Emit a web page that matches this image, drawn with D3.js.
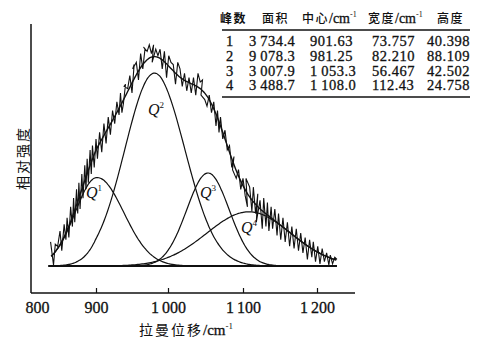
<!DOCTYPE html>
<html lang="zh">
  <head>
    <meta charset="UTF-8" />
    <title>拉曼光谱分峰拟合</title>
    <script src="https://d3js.org/d3.v7.min.js"></script>
    <style>
      body {
        margin: 0;
        background: #fff;
      }
      svg text {
        fill: #111;
      }
      .num {
        font-family: "Liberation Serif", "DejaVu Serif", serif;
      }
      .cjk {
        font-family: "Noto Sans CJK SC", sans-serif;
      }
      .heavy {
        stroke: #111;
        stroke-width: 0.3px;
      }
    </style>
  </head>
  <body>
    <div id="chart"></div>
    <script>
      // fitted peaks (table values)
      const peakNo = [1, 2, 3, 4];
      const peakArea = [3734.4, 9078.3, 3007.9, 3488.7];
      const peakCenter = [901.63, 981.25, 1053.3, 1108.0];
      const peakWidth = [73.757, 82.21, 56.467, 112.43];
      const peakHeight = [40.398, 88.109, 42.502, 24.758];

      const rawShift = [
        823, 828, 831, 835, 839, 842, 846, 849, 851, 854, 857, 860, 862, 864, 867, 869,
        871, 873, 876, 878, 881, 883, 885, 887, 890, 892, 894, 897, 900, 902, 905, 908,
        911, 914, 917, 920, 923, 926, 929, 932, 934, 936, 938, 941, 939, 944, 947, 950,
        953, 951, 956, 959, 962, 965, 968, 966, 971, 974, 977, 980, 978, 983, 986, 989,
        992, 995, 998, 1001, 1004, 1007, 1010, 1013, 1016, 1019, 1022, 1025, 1028, 1031,
        1034, 1037, 1040, 1043, 1046, 1044, 1049, 1052, 1055, 1058, 1061, 1064, 1066,
        1068, 1070, 1073, 1076, 1079, 1082, 1085, 1088, 1086, 1091, 1094, 1097, 1100,
        1103, 1106, 1104, 1109, 1112, 1114, 1117, 1120, 1118, 1123, 1126, 1128, 1131,
        1133, 1135, 1138, 1140, 1143, 1146, 1148, 1151, 1154, 1157, 1160, 1163, 1166,
        1169, 1172, 1175, 1178, 1181, 1184, 1187, 1190, 1193, 1195, 1198, 1201, 1204,
        1207, 1210, 1213, 1216, 1218, 1221, 1224, 1227
      ];
      const rawIntensity = [
        11, 0.5, 10, 9, 16, 7, 19, 12, 22, 13, 27, 18, 31, 20, 35, 24,
        38, 26, 42, 31, 46, 35, 49, 38, 53, 42, 55, 45, 58, 49, 61, 52,
        65, 56, 68, 60, 71, 65, 75, 69, 79, 70, 74, 83, 82, 81, 87, 79,
        92, 90, 93, 85, 97, 90, 99, 100, 98, 101, 97, 101, 93, 99, 96, 99,
        90, 98, 86, 96, 93, 92, 83, 93, 90, 82, 88, 80, 86, 79,
        86, 78, 88, 84, 85, 78, 76, 73, 78, 70, 75, 64, 71,
        61, 68, 58, 62, 53, 55, 45, 50, 44, 40, 44, 35, 40,
        32, 27, 40, 36, 25, 36, 24, 33, 20, 30, 17, 31, 18,
        29, 16, 27, 17, 26, 14, 24, 12, 22, 11, 20, 9, 18,
        8, 17, 7, 15, 6, 13, 3, 12, 4, 11, 2, 9, 1,
        8, 2, 6, 0.5, 5, 1, 4, 3
      ];

      const xTicks = [800, 900, 1000, 1100, 1200];
      const yTitle = "相对强度";
      const tableHead = ["峰数", "面积", "中心", "宽度", "高度"];

      const width = 484,
        height = 345;

      const svg = d3
        .select("#chart")
        .append("svg")
        .attr("width", width)
        .attr("height", height);

      // the printed axis is not quite even, so piecewise scale
      const x = d3
        .scaleLinear()
        .domain([800, 900, 1000, 1100, 1200, 1250])
        .range([37, 96, 168, 243, 317, 354]);
      const y = d3.scaleLinear().domain([0, 100]).range([266, 47]);

      const xAxisY = 293,
        axisLeft = 31;

      // axes
      svg
        .append("line")
        .attr("x1", axisLeft)
        .attr("x2", axisLeft)
        .attr("y1", 24)
        .attr("y2", xAxisY)
        .attr("stroke", "#111")
        .attr("stroke-width", 1.5);
      svg
        .append("line")
        .attr("x1", axisLeft)
        .attr("x2", 355)
        .attr("y1", xAxisY)
        .attr("y2", xAxisY)
        .attr("stroke", "#111")
        .attr("stroke-width", 1.5);

      const xAxis = svg
        .append("g")
        .attr("transform", `translate(0,${xAxisY})`)
        .call(
          d3
            .axisBottom(x)
            .tickValues(xTicks)
            .tickSize(-5)
            .tickPadding(9)
            .tickFormat((d) => (d >= 1000 ? String(d)[0] + "\u2009" + String(d).slice(1) : d))
        );
      xAxis.select(".domain").remove();
      xAxis.selectAll(".tick line").attr("stroke", "#111").attr("stroke-width", 1.2);
      xAxis.selectAll(".tick").filter((d) => d === 800).select("line").remove();
      xAxis
        .selectAll(".tick text")
        .attr("class", "num heavy")
        .style("font-size", "16px")
        .attr("fill", "#111");

      const xt = svg
        .append("text")
        .attr("x", 186)
        .attr("y", 335)
        .attr("text-anchor", "middle");
      xt.append("tspan")
        .attr("class", "cjk")
        .style("font-size", "14px")
        .style("letter-spacing", "2px")
        .text("拉曼位移");
      xt.append("tspan").attr("class", "num heavy").style("font-size", "15px").text("/cm");
      xt.append("tspan")
        .attr("class", "num")
        .style("font-size", "9px")
        .attr("dy", -6)
        .text("-1");

      svg
        .append("text")
        .attr("class", "cjk")
        .attr("transform", "translate(22,158) rotate(-90)")
        .attr("text-anchor", "middle")
        .attr("dominant-baseline", "central")
        .style("font-size", "14px")
        .style("letter-spacing", "2px")
        .text(yTitle);

      // fitted curves
      const grid = d3.range(824, 1227.01, 2);
      const gauss = (v, i) =>
        peakHeight[i] * Math.exp(-((v - peakCenter[i]) ** 2) / (2 * (peakWidth[i] / 2) ** 2));

      const line = d3
        .line()
        .x((d) => x(d[0]))
        .y((d) => y(d[1]))
        .curve(d3.curveBasis);

      // baseline
      svg
        .append("line")
        .attr("x1", x(824) - 3)
        .attr("x2", x(1227))
        .attr("y1", y(0))
        .attr("y2", y(0))
        .attr("stroke", "#111")
        .attr("stroke-width", 2);

      peakNo.forEach((n, i) => {
        svg
          .append("path")
          .datum(grid.map((v) => [v, gauss(v, i)]))
          .attr("d", line)
          .attr("fill", "none")
          .attr("stroke", "#111")
          .attr("stroke-width", 1.2);
      });

      // raw spectrum
      svg
        .append("path")
        .datum(rawShift.map((v, i) => [v, rawIntensity[i]]))
        .attr("d", d3.line().x((d) => x(d[0])).y((d) => y(d[1])))
        .attr("fill", "none")
        .attr("stroke", "#111")
        .attr("stroke-width", 1.1)
        .attr("stroke-linejoin", "miter");

      // cumulative fit
      svg
        .append("path")
        .datum(grid.map((v) => [v, d3.sum(peakNo, (n, i) => gauss(v, i))]))
        .attr("d", line)
        .attr("fill", "none")
        .attr("stroke", "#111")
        .attr("stroke-width", 1.4);

      // peak labels
      const qPos = [
        [86, 198],
        [148, 115],
        [200, 198],
        [241, 233]
      ];
      peakNo.forEach((n, i) => {
        const t = svg
          .append("text")
          .attr("class", "num")
          .attr("x", qPos[i][0])
          .attr("y", qPos[i][1]);
        t.append("tspan").style("font-size", "16px").style("font-style", "italic").text("Q");
        t.append("tspan").style("font-size", "9px").attr("dy", -7).text(n);
      });

      // table
      const colX = [226, 249, 310, 372, 427];
      const headX = [220, 262, 302, 368, 437];
      const rowY = [46, 61, 75.5, 90];
      const fmt = (v) => {
        const s = v.toPrecision(5);
        const [a, b] = s.split(".");
        const ip = a.length === 4 ? a[0] + "\u2009" + a.slice(1) : a;
        return b ? ip + "." + b : ip;
      };

      svg.append("rect")
        .attr("x", 220).attr("y", 30).attr("width", 252).attr("height", 68)
        .attr("fill", "#fff");

      tableHead.forEach((h, j) => {
        const t = svg.append("text").attr("x", headX[j]).attr("y", 23);
        t.append("tspan")
          .attr("class", "cjk")
          .style("font-size", "12px")
          .style("font-weight", j === 0 ? "bold" : "500")
          .style("letter-spacing", "1.5px")
          .text(h);
        if (j === 2 || j === 3) {
          t.append("tspan").attr("class", "num heavy").style("font-size", "14px").text("/cm");
          t.append("tspan")
            .attr("class", "num")
            .style("font-size", "8px")
            .attr("dy", -6)
            .text("-1");
        }
      });

      svg.append("line")
        .attr("x1", 222).attr("x2", 470).attr("y1", 30).attr("y2", 30)
        .attr("stroke", "#111").attr("stroke-width", 1.6);
      svg.append("line")
        .attr("x1", 222).attr("x2", 470).attr("y1", 97).attr("y2", 97)
        .attr("stroke", "#111").attr("stroke-width", 1.3);

      peakNo.forEach((n, i) => {
        const cells = [String(n), fmt(peakArea[i]), fmt(peakCenter[i]), fmt(peakWidth[i]), fmt(peakHeight[i])];
        cells.forEach((c, j) => {
          svg
            .append("text")
            .attr("class", "num heavy")
            .attr("x", colX[j])
            .attr("y", rowY[i])
            .style("font-size", "14.5px")
            .style("letter-spacing", "0.5px")
            .text(c);
        });
      });
    </script>
  </body>
</html>
